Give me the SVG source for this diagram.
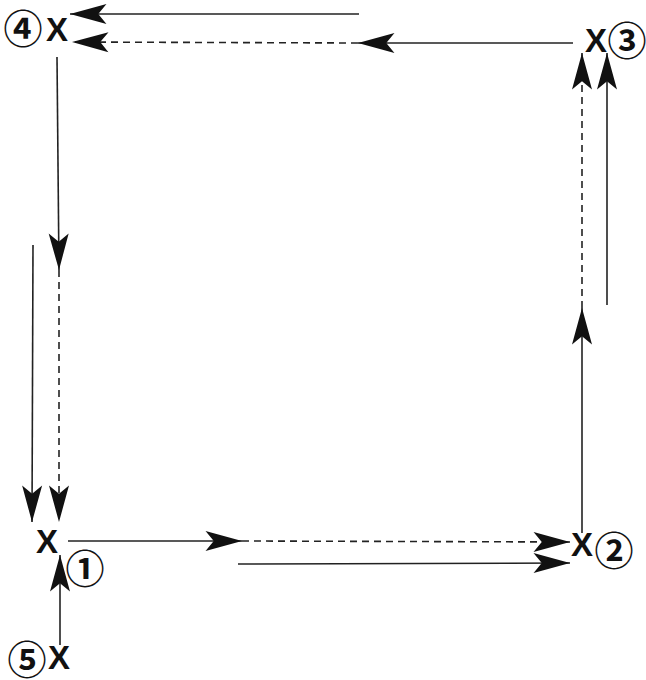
<svg xmlns="http://www.w3.org/2000/svg" width="646" height="680" viewBox="0 0 646 680">
<style>
.ln{stroke:#222;stroke-width:1.6;fill:none}
.da{stroke-dasharray:7 5}
.x{font-family:"Liberation Sans",Arial,sans-serif;font-weight:bold;font-size:33px;fill:#111;text-anchor:middle}
.n{font-family:"Noto Sans CJK JP","DejaVu Sans",sans-serif;font-weight:bold;font-size:39px;fill:#111;text-anchor:middle;dominant-baseline:central}
</style>
<defs>
<marker id="ah" markerUnits="userSpaceOnUse" markerWidth="40" markerHeight="24" viewBox="-32 -10 34 20" refX="0" refY="0" orient="auto" overflow="visible">
<path d="M0,0 L-31,-8.5 L-24,0 L-31,8.5 Z" fill="#111" stroke="none"/>
</marker>
</defs>
<rect width="646" height="680" fill="#fff"/>
<g id="connectors">
<line class="ln" x1="359" y1="14" x2="70" y2="14" marker-end="url(#ah)"/>
<line class="ln" x1="573" y1="43" x2="358" y2="43" marker-end="url(#ah)"/>
<line class="ln da" x1="358" y1="43" x2="72" y2="42" marker-end="url(#ah)"/>
<line class="ln" x1="57" y1="57" x2="59" y2="270" marker-end="url(#ah)"/>
<line class="ln da" x1="59" y1="270" x2="59" y2="522" marker-end="url(#ah)"/>
<line class="ln" x1="33" y1="245" x2="32" y2="522" marker-end="url(#ah)"/>
<line class="ln" x1="68" y1="541" x2="242" y2="541" marker-end="url(#ah)"/>
<line class="ln da" x1="242" y1="541" x2="570" y2="542" marker-end="url(#ah)"/>
<line class="ln" x1="238" y1="564" x2="570" y2="563" marker-end="url(#ah)"/>
<line class="ln" x1="582" y1="533" x2="582" y2="308" marker-end="url(#ah)"/>
<line class="ln da" x1="582" y1="308" x2="582" y2="53" marker-end="url(#ah)"/>
<line class="ln" x1="607" y1="305" x2="607" y2="53" marker-end="url(#ah)"/>
<line class="ln" x1="60" y1="645" x2="60" y2="555" marker-end="url(#ah)"/>
</g>
<g id="node4">
<text class="n" x="23" y="26">④</text>
<text class="x" x="57" y="41">X</text>
</g>
<g id="node3">
<text class="x" x="596" y="52">X</text>
<text class="n" x="627" y="38">③</text>
</g>
<g id="node2">
<text class="x" x="582" y="556">X</text>
<text class="n" x="614" y="548">②</text>
</g>
<g id="node1">
<text class="x" x="47" y="553">X</text>
<text class="n" x="85" y="566">①</text>
</g>
<g id="node5">
<text class="n" x="27" y="657">⑤</text>
<text class="x" x="59" y="669">X</text>
</g>
</svg>
